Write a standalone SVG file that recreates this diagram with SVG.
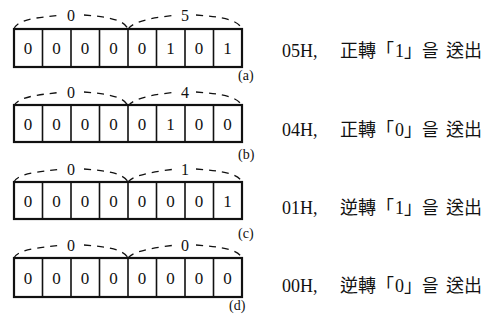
<svg xmlns="http://www.w3.org/2000/svg" width="495" height="320" viewBox="0 0 495 320">
<style>
.cell{fill:#fff;stroke:#111;stroke-width:1.6}
.frame{fill:none;stroke:#111;stroke-width:2.2}
.d{font-family:"Liberation Serif",serif;font-size:17px;fill:#111;text-anchor:middle}
.lbl{font-family:"Liberation Serif",serif;font-size:16px;fill:#111;text-anchor:middle}
.cap{font-family:"Liberation Serif",serif;font-size:14px;fill:#111}
.t{font-family:"Liberation Serif","Noto Sans CJK KR",serif;font-size:18px;fill:#111}
.br{fill:none;stroke:#111;stroke-width:1.3;stroke-dasharray:7,6}
</style>
<rect width="495" height="320" fill="#fff"/>
<g id="connectors">
<path class="br" d="M14,29 C18,17 50,17 62,15"/>
<path class="br" d="M84,15 C110,17 124,20 128,29"/>
<path class="br" d="M128,29 C134,20 160,17 176,15"/>
<path class="br" d="M196,15 C224,17 238,20 242,29"/>
<path class="br" d="M14,106 C18,95 50,94 62,92"/>
<path class="br" d="M84,92 C110,94 124,97 128,106"/>
<path class="br" d="M128,106 C134,97 160,94 176,92"/>
<path class="br" d="M196,92 C224,94 238,97 242,106"/>
<path class="br" d="M14,182 C18,172 50,171 62,169"/>
<path class="br" d="M84,169 C110,171 124,174 128,182"/>
<path class="br" d="M128,182 C134,174 160,171 176,169"/>
<path class="br" d="M196,169 C224,171 238,174 242,182"/>
<path class="br" d="M14,258 C18,248 50,247 62,245"/>
<path class="br" d="M84,245 C110,247 124,250 128,258"/>
<path class="br" d="M128,258 C134,250 160,247 176,245"/>
<path class="br" d="M196,245 C224,247 238,250 242,258"/>
</g>
<g id="row-a">
<rect class="frame" x="14" y="29" width="228" height="38"/>
<path class="cell" d="M42.5,29V67M71,29V67M99.5,29V67M128,29V67M156.5,29V67M185,29V67M213.5,29V67"/>
<text class="lbl" x="71" y="21">0</text><text class="lbl" x="185" y="21">5</text>
<text class="d" x="28" y="54">0</text><text class="d" x="56.5" y="54">0</text><text class="d" x="85" y="54">0</text><text class="d" x="113.5" y="54">0</text>
<text class="d" x="142" y="54">0</text><text class="d" x="170.5" y="54">1</text><text class="d" x="199" y="54">0</text><text class="d" x="227.5" y="54">1</text>
<text class="cap" x="238" y="80">(a)</text>
<text class="t" y="57"><tspan x="282">05H,</tspan><tspan x="340">正轉</tspan><tspan x="376">「</tspan><tspan x="395">1</tspan><tspan x="404">」</tspan><tspan x="422">을</tspan><tspan x="446">送出</tspan></text>
</g>
<g id="row-b">
<rect class="frame" x="14" y="105" width="228" height="37"/>
<path class="cell" d="M42.5,105V142M71,105V142M99.5,105V142M128,105V142M156.5,105V142M185,105V142M213.5,105V142"/>
<text class="lbl" x="71" y="98">0</text><text class="lbl" x="185" y="98">4</text>
<text class="d" x="28" y="130">0</text><text class="d" x="56.5" y="130">0</text><text class="d" x="85" y="130">0</text><text class="d" x="113.5" y="130">0</text>
<text class="d" x="142" y="130">0</text><text class="d" x="170.5" y="130">1</text><text class="d" x="199" y="130">0</text><text class="d" x="227.5" y="130">0</text>
<text class="cap" x="238" y="159">(b)</text>
<text class="t" y="136"><tspan x="282">04H,</tspan><tspan x="340">正轉</tspan><tspan x="376">「</tspan><tspan x="395">0</tspan><tspan x="404">」</tspan><tspan x="422">을</tspan><tspan x="446">送出</tspan></text>
</g>
<g id="row-c">
<rect class="frame" x="14" y="182" width="228" height="37"/>
<path class="cell" d="M42.5,182V219M71,182V219M99.5,182V219M128,182V219M156.5,182V219M185,182V219M213.5,182V219"/>
<text class="lbl" x="71" y="175">0</text><text class="lbl" x="185" y="175">1</text>
<text class="d" x="28" y="207">0</text><text class="d" x="56.5" y="207">0</text><text class="d" x="85" y="207">0</text><text class="d" x="113.5" y="207">0</text>
<text class="d" x="142" y="207">0</text><text class="d" x="170.5" y="207">0</text><text class="d" x="199" y="207">0</text><text class="d" x="227.5" y="207">1</text>
<text class="cap" x="238" y="238">(c)</text>
<text class="t" y="214"><tspan x="282">01H,</tspan><tspan x="340">逆轉</tspan><tspan x="376">「</tspan><tspan x="395">1</tspan><tspan x="404">」</tspan><tspan x="422">을</tspan><tspan x="446">送出</tspan></text>
</g>
<g id="row-d">
<rect class="frame" x="14" y="258" width="228" height="39"/>
<path class="cell" d="M42.5,258V297M71,258V297M99.5,258V297M128,258V297M156.5,258V297M185,258V297M213.5,258V297"/>
<text class="lbl" x="71" y="251">0</text><text class="lbl" x="185" y="251">0</text>
<text class="d" x="28" y="284">0</text><text class="d" x="56.5" y="284">0</text><text class="d" x="85" y="284">0</text><text class="d" x="113.5" y="284">0</text>
<text class="d" x="142" y="284">0</text><text class="d" x="170.5" y="284">0</text><text class="d" x="199" y="284">0</text><text class="d" x="227.5" y="284">0</text>
<text class="cap" x="229" y="310">(d)</text>
<text class="t" y="292"><tspan x="282">00H,</tspan><tspan x="340">逆轉</tspan><tspan x="376">「</tspan><tspan x="395">0</tspan><tspan x="404">」</tspan><tspan x="422">을</tspan><tspan x="446">送出</tspan></text>
</g>
</svg>
